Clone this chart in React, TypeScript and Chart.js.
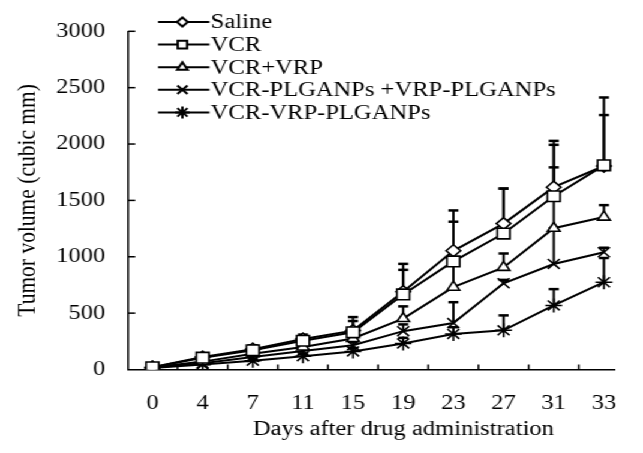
import React, { useEffect, useRef } from 'react';
import { Chart, registerables } from 'chart.js';
import { drawPoint } from 'chart.js/helpers';

Chart.register(...registerables);

// ---- data ----
const days = ['0', '4', '7', '11', '15', '19', '23', '27', '31', '33'];
const seriesNames = ['Saline', 'VCR', 'VCR+VRP', 'VCR-PLGANPs +VRP-PLGANPs', 'VCR-VRP-PLGANPs'];
const saline = [20, 110, 180, 270, 345, 690, 1053, 1294, 1617, 1805];
const vcr = [20, 105, 170, 255, 330, 666, 959, 1206, 1537, 1811];
const vcrVrp = [18, 70, 140, 200, 275, 452, 730, 906, 1253, 1352];
const plgaMix = [16, 55, 110, 165, 215, 340, 412, 765, 936, 1040];
const plgaCo = [14, 45, 78, 118, 160, 231, 315, 348, 568, 774];
const salineErr = [10, 20, 35, 40, 120, 247, 358, 311, 411, 608];
const vcrErr = [10, 20, 35, 40, 100, 218, 352, 399, 456, 446];
const vcrVrpErr = [5, 15, 20, 25, 60, 108, 229, 123, 540, 106];
const plgaMixErr = [5, 10, 15, 20, 30, 60, 185, 30, 317, 40];
const plgaCoErr = [5, 10, 15, 20, 30, 50, 60, 132, 145, 215];
const yTicks = [0, 500, 1000, 1500, 2000, 2500, 3000];

const W = 536;
const H = 453;
const STRETCH = 643 / W;
const FONT = "'Liberation Serif', 'Times New Roman', serif";

const styles = [
  { pointStyle: 'rectRot', radius: 6, legendRadius: 4.5, fill: '#fff' },
  { pointStyle: 'rect', radius: 7.5, legendRadius: 5.5, fill: '#fff' },
  { pointStyle: 'triangle', radius: 6, legendRadius: 5, fill: '#fff' },
  { pointStyle: 'crossRot', radius: 7, legendRadius: 6, fill: '#fff' },
  { pointStyle: 'star', radius: 7, legendRadius: 6, fill: '#fff' },
];

const values = [saline, vcr, vcrVrp, plgaMix, plgaCo];
const errors = [salineErr, vcrErr, vcrVrpErr, plgaMixErr, plgaCoErr];
const orders = [1, 0, 2, 3, 4];

const decor = {
  id: 'decor',
  beforeDatasetsDraw(chart: any) {
    const ctx = chart.ctx;
    const xs = chart.scales.x;
    const ys = chart.scales.y;
    ctx.save();
    ctx.strokeStyle = '#000';
    values.forEach((vals, si) => {
      vals.forEach((v, i) => {
        const e = errors[si][i];
        const x = xs.getPixelForValue(i);
        const y0 = ys.getPixelForValue(v);
        const y1 = ys.getPixelForValue(v + e);
        ctx.lineWidth = 2;
        ctx.beginPath();
        ctx.moveTo(x, y0);
        ctx.lineTo(x, y1);
        ctx.stroke();
        ctx.lineWidth = 2.5;
        ctx.beginPath();
        ctx.moveTo(x - 4.2, y1);
        ctx.lineTo(x + 4.2, y1);
        ctx.stroke();
      });
    });
    ctx.restore();
  },
  afterDraw(chart: any) {
    const ctx = chart.ctx;
    const xs = chart.scales.x;
    const ys = chart.scales.y;
    const area = chart.chartArea;
    ctx.save();
    ctx.strokeStyle = '#000';
    ctx.lineWidth = 1.5;
    // inward tick marks
    yTicks.forEach((v) => {
      if (v === 0) return;
      const y = ys.getPixelForValue(v);
      ctx.beginPath();
      ctx.moveTo(area.left, y);
      ctx.lineTo(area.left + 6, y);
      ctx.stroke();
    });
    for (let i = 0; i < days.length - 1; i++) {
      const x = xs.getPixelForValue(i + 0.5);
      ctx.beginPath();
      ctx.moveTo(x, area.bottom);
      ctx.lineTo(x, area.bottom - 5);
      ctx.stroke();
    }
    // legend
    const rowY0 = 22;
    const rowGap = 22.6;
    seriesNames.forEach((name, i) => {
      const y = rowY0 + rowGap * i;
      ctx.lineWidth = 2;
      ctx.strokeStyle = '#000';
      ctx.beginPath();
      ctx.moveTo(131.7, y);
      ctx.lineTo(174.5, y);
      ctx.stroke();
      ctx.fillStyle = '#fff';
      ctx.strokeStyle = '#000';
      drawPoint(ctx, { pointStyle: styles[i].pointStyle, radius: styles[i].legendRadius, rotation: 0, borderWidth: 1.5 } as any, 152, y);
      ctx.fillStyle = '#000';
      ctx.font = `20.5px ${FONT}`;
      ctx.textAlign = 'left';
      ctx.textBaseline = 'middle';
      ctx.fillText(name, 175.5, y + 1);
    });
    // x title
    ctx.fillStyle = '#000';
    ctx.font = `20.5px ${FONT}`;
    ctx.textAlign = 'center';
    ctx.textBaseline = 'middle';
    ctx.fillText('Days after drug administration', 336.3, 429.5);
    ctx.restore();
  },
};

export default function App() {
  const ref = useRef<HTMLCanvasElement>(null);
  useEffect(() => {
    if (!ref.current) return;
    const chart = new Chart(ref.current, {
      type: 'line',
      data: {
        datasets: values.map((vals, si) => ({
          label: seriesNames[si],
          data: vals.map((v, i) => ({ x: i, y: v })),
          borderColor: '#000',
          borderWidth: 2,
          pointStyle: styles[si].pointStyle as any,
          pointRadius: styles[si].radius,
          pointBackgroundColor: styles[si].fill,
          pointBorderColor: '#000',
          pointBorderWidth: 1.6,
          fill: false,
          tension: 0,
          order: orders[si],
        })),
      },
      options: {
        animation: false,
        responsive: false,
        maintainAspectRatio: false,
        devicePixelRatio: 1,
        events: [],
        layout: { padding: { left: 0, right: 13.3, top: 29, bottom: 0 } },
        plugins: { legend: { display: false }, tooltip: { enabled: false } },
        scales: {
          x: {
            type: 'linear',
            min: -0.486,
            max: 9.223,
            afterBuildTicks: (s: any) => {
              s.ticks = days.map((_, i) => ({ value: i }));
            },
            afterFit: (s: any) => {
              s.height = 83.5;
            },
            ticks: {
              callback: (v: any) => days[Math.round(Number(v))],
              autoSkip: false,
              maxRotation: 0,
              padding: 22,
              color: '#000',
              font: { family: FONT, size: 20.5 },
            },
            grid: { display: false, drawTicks: false },
            border: { display: true, color: '#000', width: 1.5 },
          },
          y: {
            min: 0,
            max: 3000,
            afterBuildTicks: (s: any) => {
              s.ticks = yTicks.map((v) => ({ value: v }));
            },
            afterFit: (s: any) => {
              s.width = 106.7;
            },
            ticks: {
              callback: (v: any) => String(v),
              padding: 19,
              color: '#000',
              font: { family: FONT, size: 20.5 },
            },
            grid: { display: false, drawTicks: false },
            border: { display: true, color: '#000', width: 1.5 },
            title: {
              display: true,
              text: 'Tumor volume (cubic mm)',
              color: '#000',
              font: { family: FONT, size: 21.5 },
              padding: { top: 10.5, bottom: 0 },
            },
          },
        },
      },
      plugins: [decor],
    });
    return () => chart.destroy();
  }, []);
  return (
    <div
      style={{
        position: 'fixed',
        left: 0,
        top: 0,
        width: W,
        height: H,
        transform: `scaleX(${STRETCH})`,
        transformOrigin: '0 0',
        background: '#fff',
      }}
    >
      <canvas ref={ref} width={W} height={H} style={{ display: 'block' }} />
    </div>
  );
}
